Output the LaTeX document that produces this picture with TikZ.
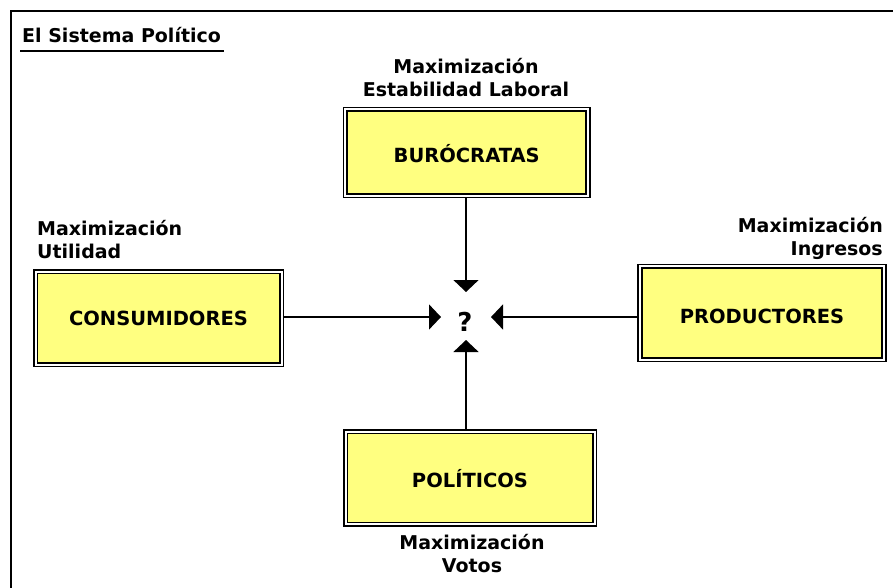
\documentclass[tikz,border=0pt]{standalone}
\usepackage{fontspec}
\setmainfont{DejaVu Sans}
\usetikzlibrary{arrows.meta,calc}
\definecolor{boxyellow}{RGB}{255,255,128}
\begin{document}
\begin{tikzpicture}[x=1pt,y=-1pt,
  actor/.style={draw, double=white, double distance=2pt, line width=1.6pt,
    fill=boxyellow, font=\fontsize{19.5}{23}\selectfont\bfseries,
    text height=14.2pt, text depth=0pt, inner sep=0pt, outer sep=2.6pt},
  goal/.style={font=\fontsize{19}{23}\selectfont\bfseries, inner sep=0pt},
  conn/.style={line width=1.5pt, -{Triangle[width=25pt,length=12pt]}}]
\useasboundingbox (0,0) rectangle (893,588);
\draw[line width=2.5pt] (11,600) -- (11,11) -- (900,11);
\node[goal, anchor=base west] (title) at (22,43) {El Sistema Político};
\draw[line width=2pt] ($(title.base west)+(-2,8)$) -- ($(title.base east)+(3,8)$);

\node[actor, minimum width=242.5pt, minimum height=86pt, text height=20.2pt] (bur) at (466.7,152.5) {BURÓCRATAS};
\node[actor, minimum width=246pt, minimum height=93pt] (con) at (158.5,318) {CONSUMIDORES};
\node[actor, minimum width=244pt, minimum height=93.5pt, text height=21.2pt] (pro) at (762,313) {PRODUCTORES};
\node[actor, minimum width=249pt, minimum height=92.5pt, text height=19.2pt] (pol) at (470,478) {POLÍTICOS};

\node[font=\fontsize{26}{26}\selectfont\bfseries, inner sep=0pt] (q) at (465,322) {?};
\coordinate (tT) at (466,292);
\coordinate (tL) at (441,317);
\coordinate (tR) at (491,317);
\coordinate (tB) at (466,340);
\draw[conn] (bur.south -| tT) -- (tT);
\draw[conn] (con.east |- tL) -- (tL);
\draw[conn] (pro.west |- tR) -- (tR);
\draw[conn] (pol.north -| tB) -- (tB);

\node[goal, align=center, anchor=base] (gbur) at (466,97) {Maximización\\Estabilidad Laboral};
\node[goal, align=left, anchor=base west] (gcon) at (37,258) {Maximización\\Utilidad};
\node[goal, align=right, anchor=base east] (gpro) at (883,255) {Maximización\\Ingresos};
\node[goal, align=center, anchor=base] (gpol) at (472,572) {Maximización\\Votos};
\end{tikzpicture}
\end{document}
